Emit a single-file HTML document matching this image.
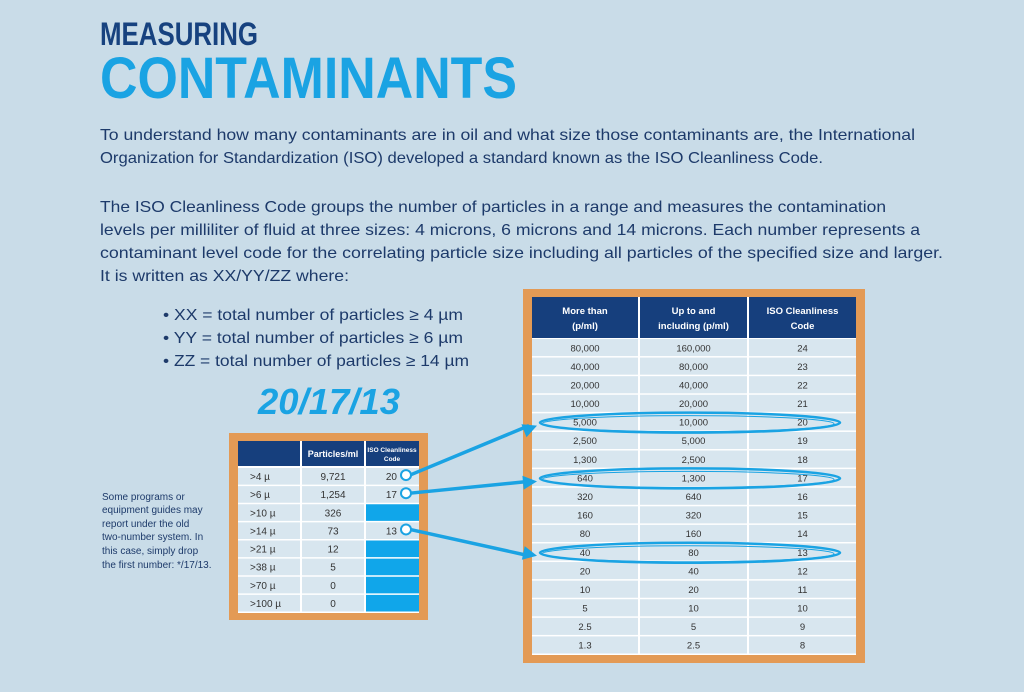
<!DOCTYPE html>
<html><head><meta charset="utf-8"><style>
html,body{margin:0;padding:0;background:#c9dce8;}
svg{display:block;font-family:"Liberation Sans Narrow","Liberation Sans",sans-serif;}
</style></head><body>
<svg id="s" width="1024" height="692" viewBox="0 0 1024 692">
<rect width="1024" height="692" fill="#c9dce8"/>
<text x="100" y="45" font-size="32" font-weight="bold" fill="#17427f" textLength="158" lengthAdjust="spacingAndGlyphs">MEASURING</text>
<text x="100" y="98" font-size="58" font-weight="bold" fill="#1aa3e3" textLength="417" lengthAdjust="spacingAndGlyphs">CONTAMINANTS</text>
<g font-size="16" fill="#1d3a6a">
<text x="100" y="140" textLength="815" lengthAdjust="spacingAndGlyphs">To understand how many contaminants are in oil and what size those contaminants are, the International</text>
<text x="100" y="163" textLength="723" lengthAdjust="spacingAndGlyphs">Organization for Standardization (ISO) developed a standard known as the ISO Cleanliness Code.</text>
<text x="100" y="212" textLength="786" lengthAdjust="spacingAndGlyphs">The ISO Cleanliness Code groups the number of particles in a range and measures the contamination</text>
<text x="100" y="235" textLength="820" lengthAdjust="spacingAndGlyphs">levels per milliliter of fluid at three sizes: 4 microns, 6 microns and 14 microns. Each number represents a</text>
<text x="100" y="258" textLength="843" lengthAdjust="spacingAndGlyphs">contaminant level code for the correlating particle size including all particles of the specified size and larger.</text>
<text x="100" y="281" textLength="249" lengthAdjust="spacingAndGlyphs">It is written as XX/YY/ZZ where:</text>
<text x="163" y="320" textLength="300" lengthAdjust="spacingAndGlyphs">• XX = total number of particles ≥ 4 µm</text>
<text x="163" y="343" textLength="300" lengthAdjust="spacingAndGlyphs">• YY = total number of particles ≥ 6 µm</text>
<text x="163" y="366" textLength="306" lengthAdjust="spacingAndGlyphs">• ZZ = total number of particles ≥ 14 µm</text>
</g>
<text x="258" y="414" font-size="36" font-weight="bold" font-style="italic" fill="#1aa3e3" textLength="142" lengthAdjust="spacingAndGlyphs">20/17/13</text>
<g font-size="10" fill="#1d3a6a">
<text x="102" y="500">Some programs or</text>
<text x="102" y="513">equipment guides may</text>
<text x="102" y="527">report under the old</text>
<text x="102" y="540">two-number system. In</text>
<text x="102" y="554">this case, simply drop</text>
<text x="102" y="568">the first number: */17/13.</text>
</g>
<g id="small"></g>
<g id="big"></g>
<g id="marks"></g>
</svg>
<script>
const smallSizes=[">4 µ",">6 µ",">10 µ",">14 µ",">21 µ",">38 µ",">70 µ",">100 µ"];
const smallCounts=["9,721","1,254","326","73","12","5","0","0"];
const smallCodes=["20","17","","13","","","",""];
const bigMore=["80,000","40,000","20,000","10,000","5,000","2,500","1,300","640","320","160","80","40","20","10","5","2.5","1.3"];
const bigUpTo=["160,000","80,000","40,000","20,000","10,000","5,000","2,500","1,300","640","320","160","80","40","20","10","5","2.5"];
const bigCodes=["24","23","22","21","20","19","18","17","16","15","14","13","12","11","10","9","8"];
const NS="http://www.w3.org/2000/svg";
function el(p,t,a,txt){const e=document.createElementNS(NS,t);for(const k in a)e.setAttribute(k,a[k]);if(txt!==undefined)e.textContent=txt;p.appendChild(e);return e;}
// small table
const sg=document.getElementById('small');


el(sg,'rect',{x:229,y:433,width:199,height:187,fill:'#e39a55'});
el(sg,'rect',{x:238,y:441,width:181,height:172,fill:'#fff'});
const sc=[[238,62],[302,62],[366,53]];
const sTop=468,sH=(613-468)/smallSizes.length;
sc.forEach(c=>el(sg,'rect',{x:c[0],y:441,width:c[1],height:25,fill:'#163f7d'}));
el(sg,'text',{x:333,y:457,'font-size':9,'font-weight':'bold',fill:'#fff','text-anchor':'middle'},'Particles/ml');
el(sg,'text',{x:392,y:452,'font-size':6.5,'font-weight':'bold',fill:'#fff','text-anchor':'middle'},'ISO Cleanliness');
el(sg,'text',{x:392,y:461,'font-size':6.5,'font-weight':'bold',fill:'#fff','text-anchor':'middle'},'Code');
smallSizes.forEach((s,i)=>{
 const y=sTop+i*sH;
 const r=el(sg,'g',{});
 
 
 el(r,'rect',{x:238,y:y,width:62,height:sH-1.5,fill:'#d8e6ef'});
 el(r,'rect',{x:302,y:y,width:62,height:sH-1.5,fill:'#d8e6ef'});
 el(r,'rect',{x:366,y:y,width:53,height:sH-1.5,fill:smallCodes[i]?'#d8e6ef':'#10a6ea'});
 el(r,'text',{x:250,y:y+sH/2+3,'font-size':10,fill:'#333'},s);
 el(r,'text',{x:333,y:y+sH/2+3,'font-size':10,fill:'#333','text-anchor':'middle'},smallCounts[i]);
 if(smallCodes[i])el(r,'text',{x:397,y:y+sH/2+3,'font-size':10,fill:'#333','text-anchor':'end'},smallCodes[i]);
});
// big table
const bg=document.getElementById('big');


el(bg,'rect',{x:523,y:289,width:342,height:374,fill:'#e39a55'});
el(bg,'rect',{x:532,y:297,width:324,height:358,fill:'#fff'});
const bc=[[532,106],[640,107],[749,107]];
bc.forEach(c=>el(bg,'rect',{x:c[0],y:297,width:c[1],height:41,fill:'#163f7d'}));
const hd=[["More than","(p/ml)"],["Up to and","including (p/ml)"],["ISO Cleanliness","Code"]];
hd.forEach((h,j)=>{const cx=bc[j][0]+bc[j][1]/2;
 el(bg,'text',{x:cx,y:314,'font-size':9.5,'font-weight':'bold',fill:'#fff','text-anchor':'middle'},h[0]);
 el(bg,'text',{x:cx,y:329,'font-size':9.5,'font-weight':'bold',fill:'#fff','text-anchor':'middle'},h[1]);});
const bTop=339,bH=(655-339)/bigMore.length;
bigMore.forEach((m,i)=>{
 const y=bTop+i*bH;
 const r=el(bg,'g',{});
 
 
 const vals=[m,bigUpTo[i],bigCodes[i]];
 bc.forEach((c,j)=>{el(r,'rect',{x:c[0],y:y,width:c[1],height:bH-1.5,fill:'#d8e6ef'});
  el(r,'text',{x:c[0]+c[1]/2,y:y+bH/2+3,'font-size':9.5,fill:'#333','text-anchor':'middle'},vals[j]);});
});
// ellipses and arrows
const mk=document.getElementById('marks');
const links=[[0,'20'],[1,'17'],[3,'13']];
links.forEach(([si,code])=>{
 const bi=bigCodes.indexOf(code);
 const ey=bTop+bi*bH+bH/2;
 const sy=sTop+si*sH+sH/2-2;
 const g=el(mk,'g',{});
 
 
 el(g,'ellipse',{cx:690,cy:ey,rx:150,ry:10,fill:'none',stroke:'#1aa3e3','stroke-width':2.5});
 el(g,'ellipse',{cx:688,cy:ey+1,rx:146,ry:8,fill:'none',stroke:'#1aa3e3','stroke-width':1});
 const x1=410,x2=537,y2=ey+3;
 el(g,'line',{x1:x1,y1:sy,x2:x2-8,y2:y2,stroke:'#1aa3e3','stroke-width':3.5});
 const a=Math.atan2(y2-sy,x2-x1),L=14,W=7;
 const bx=x2-L*Math.cos(a),by=y2-L*Math.sin(a);
 el(g,'polygon',{points:`${x2},${y2} ${bx-W*Math.sin(a)},${by+W*Math.cos(a)} ${bx+W*Math.sin(a)},${by-W*Math.cos(a)}`,fill:'#1aa3e3'});
 el(g,'circle',{cx:406,cy:sy,r:5,fill:'#fff',stroke:'#1aa3e3','stroke-width':2});
});
</script>
</body></html>
